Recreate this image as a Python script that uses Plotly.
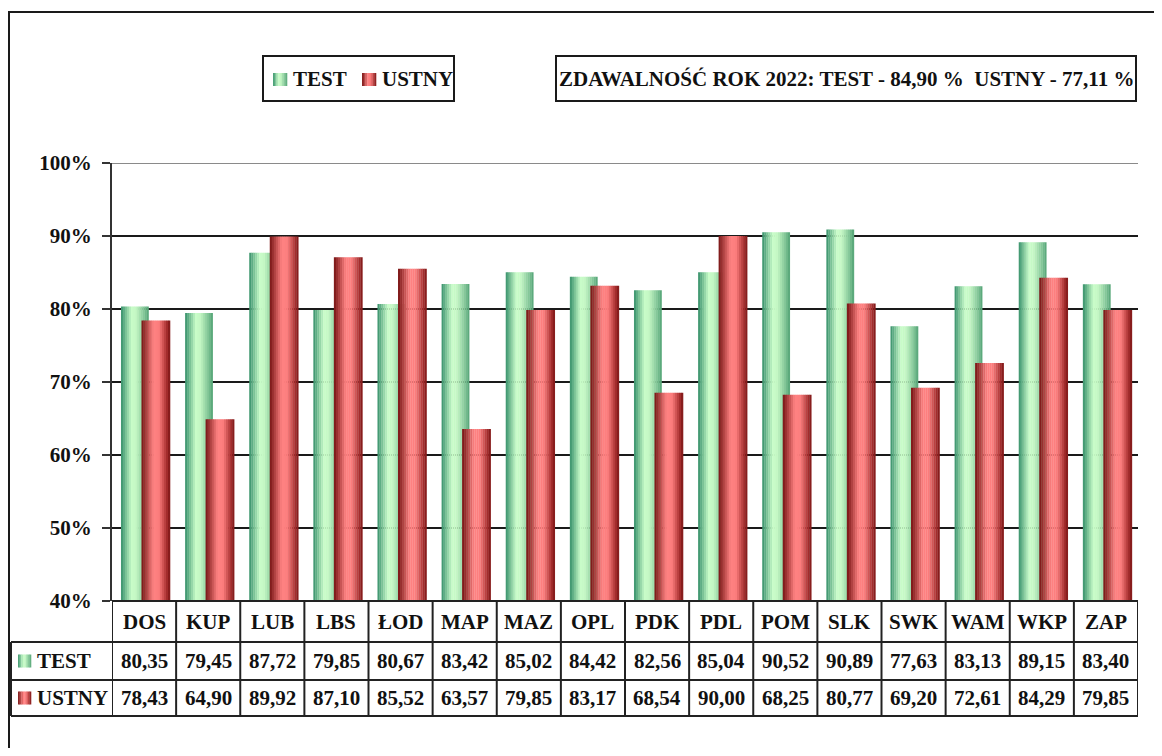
import plotly.graph_objects as go

# page body has an 8px margin; size the figure so the page fits the window exactly
OFF = 8
W, H = 1162 - 2 * OFF, 756 - 2 * OFF

categories = ["DOS", "KUP", "LUB", "LBS", "ŁOD", "MAP", "MAZ", "OPL",
              "PDK", "PDL", "POM", "SLK", "SWK", "WAM", "WKP", "ZAP"]
test_vals = [80.35, 79.45, 87.72, 79.85, 80.67, 83.42, 85.02, 84.42,
             82.56, 85.04, 90.52, 90.89, 77.63, 83.13, 89.15, 83.40]
ustny_vals = [78.43, 64.90, 89.92, 87.10, 85.52, 63.57, 79.85, 83.17,
              68.54, 90.00, 68.25, 80.77, 69.20, 72.61, 84.29, 79.85]
series_names = ["TEST", "USTNY"]
y_ticks = [40, 50, 60, 70, 80, 90, 100]
summary_text = "ZDAWALNOŚĆ ROK 2022: TEST - 84,90 %\u00a0 USTNY - 77,11 %"

FONT = "Liberation Serif"
FS = 21
TXT = "#111111"


def px(x):
    return (x - OFF) / W


def py(y):
    return 1 - (y - OFF) / H


def hex2rgb(h):
    h = h.lstrip("#")
    return tuple(int(h[i:i + 2], 16) for i in (0, 2, 4))


def grad(stops, t):
    for (p0, c0), (p1, c1) in zip(stops, stops[1:]):
        if p0 <= t <= p1:
            f = 0 if p1 == p0 else (t - p0) / (p1 - p0)
            a, b = hex2rgb(c0), hex2rgb(c1)
            return "rgb(%d,%d,%d)" % tuple(round(a[i] + (b[i] - a[i]) * f) for i in range(3))
    return stops[-1][1]


green_stops = [(0, "#36906a"), (0.38, "#c8fcc8"), (0.55, "#c4f7c4"), (0.85, "#7ec394"), (1, "#52a274")]
red_stops = [(0, "#761212"), (0.42, "#ff8282"), (0.62, "#fb7c7c"), (0.88, "#a83030"), (1, "#7a1515")]

fig = go.Figure()

N = 14
bar_specs = [
    (test_vals, green_stops, -0.36, 0.43),
    (ustny_vals, red_stops, -0.04, 0.445),
]
for vals, stops, off, wid in bar_specs:
    sw = wid / N
    for i in range(N):
        t = (i + 0.5) / N
        fig.add_trace(go.Bar(
            x=categories, y=vals, base=0,
            offset=off + i * sw, width=sw + 0.004,
            marker=dict(color=grad(stops, t), line=dict(width=0)),
            showlegend=False, hoverinfo="skip",
        ))

shapes = []
annotations = []
LC = "#222222"

# gridlines
for v in y_ticks[1:-1]:
    shapes.append(dict(type="line", xref="paper", yref="y", x0=px(112), x1=px(1138), y0=v, y1=v,
                       line=dict(color="#1a1a1a", width=2), layer="below"))
shapes.append(dict(type="line", xref="paper", yref="y", x0=px(112), x1=px(1138), y0=y_ticks[-1], y1=y_ticks[-1],
                   line=dict(color="#8a8a8a", width=2), layer="below"))

# outer frame: only top and left edges are inside the picture
shapes.append(dict(type="line", xref="paper", yref="paper", x0=px(8), x1=px(1200), y0=py(12), y1=py(12),
                   line=dict(color="#1a1a1a", width=2)))
shapes.append(dict(type="line", xref="paper", yref="paper", x0=px(9), x1=px(9), y0=py(12), y1=py(800),
                   line=dict(color="#1a1a1a", width=2)))

# table
T_TOP, R1, R2, T_BOT = 601, 642, 680, 716
TL = 11
shapes.append(dict(type="line", xref="paper", yref="paper", x0=px(112), x1=px(1138), y0=py(T_TOP), y1=py(T_TOP),
                   line=dict(color=LC, width=2)))
for yy in (R1, R2, T_BOT):
    shapes.append(dict(type="line", xref="paper", yref="paper", x0=px(TL), x1=px(1138), y0=py(yy), y1=py(yy),
                       line=dict(color=LC, width=2)))
shapes.append(dict(type="line", xref="paper", yref="paper", x0=px(TL), x1=px(TL), y0=py(R1), y1=py(T_BOT),
                   line=dict(color=LC, width=2)))
for k in range(len(categories) + 1):
    shapes.append(dict(type="line", xref="x", yref="paper", x0=k - 0.5, x1=k - 0.5, y0=py(T_TOP), y1=py(T_BOT),
                       line=dict(color=LC, width=2)))


def grad_square(x0, y0, x1, y1, stops, n=8):
    w = (x1 - x0) / n
    for i in range(n):
        shapes.append(dict(type="rect", xref="paper", yref="paper",
                           x0=px(x0 + i * w), x1=px(x0 + (i + 1) * w + 0.3), y0=py(y1), y1=py(y0),
                           fillcolor=grad(stops, (i + 0.5) / n), line=dict(width=0)))


font = dict(family=FONT, size=FS, color=TXT, weight="bold")

for i, c in enumerate(categories):
    annotations.append(dict(x=i, y=py((T_TOP + R1) / 2), xref="x", yref="paper", text=c, showarrow=False,
                            font=font, xanchor="center", yanchor="middle"))
    annotations.append(dict(x=i, y=py((R1 + R2) / 2), xref="x", yref="paper",
                            text=("%.2f" % test_vals[i]).replace(".", ","), showarrow=False,
                            font=font, xanchor="center", yanchor="middle"))
    annotations.append(dict(x=i, y=py((R2 + T_BOT) / 2), xref="x", yref="paper",
                            text=("%.2f" % ustny_vals[i]).replace(".", ","), showarrow=False,
                            font=font, xanchor="center", yanchor="middle"))

# row headers
for (name, stops, yc) in [(series_names[0], green_stops, (R1 + R2) / 2), (series_names[1], red_stops, (R2 + T_BOT) / 2)]:
    grad_square(18, yc - 6.5, 31, yc + 6.5, stops)
    annotations.append(dict(x=px(35), y=py(yc), xref="paper", yref="paper", text=name, showarrow=False,
                            font=font, xanchor="left", yanchor="middle"))

# legend box
shapes.append(dict(type="rect", xref="paper", yref="paper", x0=px(263), x1=px(454), y0=py(101), y1=py(56),
                   line=dict(color="#1a1a1a", width=2)))
grad_square(273, 73, 287, 86, green_stops)
annotations.append(dict(x=px(291), y=py(79), xref="paper", yref="paper", text=series_names[0], showarrow=False,
                        font=font, xanchor="left", yanchor="middle"))
grad_square(362, 73, 376, 86, red_stops)
annotations.append(dict(x=px(380), y=py(79), xref="paper", yref="paper", text=series_names[1], showarrow=False,
                        font=font, xanchor="left", yanchor="middle"))

# summary box
shapes.append(dict(type="rect", xref="paper", yref="paper", x0=px(556), x1=px(1136), y0=py(101), y1=py(56),
                   line=dict(color="#1a1a1a", width=2)))
annotations.append(dict(x=px(846), y=py(79), xref="paper", yref="paper", text=summary_text, showarrow=False,
                        font=font, xanchor="center", yanchor="middle"))

fig.update_layout(
    width=W, height=H,
    margin=dict(l=0, r=0, t=0, b=0, pad=0, autoexpand=False),
    paper_bgcolor="white", plot_bgcolor="white",
    barmode="overlay",
    showlegend=False,
    shapes=shapes,
    annotations=annotations,
    xaxis=dict(domain=[px(112), px(1138)], range=[-0.5, len(categories) - 0.5], automargin=False,
               showticklabels=False, showgrid=False, zeroline=False, showline=False, ticks=""),
    yaxis=dict(domain=[py(601), py(163)], range=[y_ticks[0], y_ticks[-1]], tickvals=y_ticks,
               ticktext=["%d%%" % v for v in y_ticks], automargin=False,
               showgrid=False, zeroline=False, showline=True, linecolor="#333333", linewidth=2,
               ticks="outside", ticklen=8, tickwidth=2, tickcolor="#333333",
               ticklabelstandoff=6, tickfont=font),
)

fig.write_html("out.html")
